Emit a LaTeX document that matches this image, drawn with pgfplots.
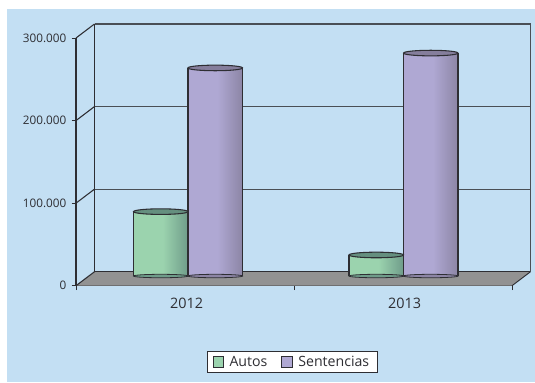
\documentclass[border=0pt]{standalone}
\usepackage{pgfplots}
\usepackage{pgfplotstable}
\usepackage{fontspec}
\setmainfont{Open Sans}
\pgfplotsset{compat=1.18}
\definecolor{bgblue}{HTML}{C3DFF3}
\definecolor{ink}{HTML}{2E2E33}
\definecolor{wallline}{HTML}{4A4F55}
\definecolor{floorgray}{HTML}{929292}
\definecolor{greenA}{HTML}{9BD3AE}
\definecolor{greenB}{HTML}{6F9C8A}
\definecolor{greenC}{HTML}{658F7F}
\definecolor{purpA}{HTML}{AFA8D3}
\definecolor{purpB}{HTML}{8C85A5}
\definecolor{purpC}{HTML}{857E9C}
\pgfdeclarehorizontalshading{cylgreen}{100bp}{color(0bp)=(greenA); color(52bp)=(greenA); color(75bp)=(greenB); color(100bp)=(greenB)}
\pgfdeclarehorizontalshading{cylpurp}{100bp}{color(0bp)=(purpA); color(52bp)=(purpA); color(75bp)=(purpB); color(100bp)=(purpB)}
\pgfdeclareplotmark{captop}{\pgfpathellipse{\pgfpointorigin}{\pgfqpoint{20.44pt}{0pt}}{\pgfqpoint{0pt}{2.1pt}}\pgfusepathqfillstroke}
\pgfdeclareplotmark{capbot}{\pgfpathellipse{\pgfpointorigin}{\pgfqpoint{20.44pt}{0pt}}{\pgfqpoint{0pt}{1.3pt}}\pgfusepathqfillstroke}
\pgfplotstableread{
x a s
0 78000 252000
1 25500 270000
}\datatable
\begin{document}
\begin{tikzpicture}
\fill[white] (0,0) rectangle (401.25pt,286.5pt);
\fill[bgblue] (5.25pt,0) rectangle (401.25pt,279.75pt);
% frame axis: true value scale on the front edge
\begin{axis}[
  at={(57pt,72.2pt)},anchor=south west,
  scale only axis,width=327pt,height=185.8pt,
  xmin=-0.5,xmax=1.5,ymin=0,ymax=300000,
  clip=false,
  axis x line=bottom,axis y line=left,
  axis line style={-,draw=ink,line width=0.9pt},
  tick style={draw=ink,line width=0.7pt},
  tick align=outside,
  major tick length=3.2pt,
  xtick={-0.5,0.5,1.5},xticklabels={2012,2013},
  x tick label as interval,
  ytick={0,100000,200000,300000},
  yticklabels={0,100.000,200.000,300.000},
  scaled y ticks=false,
  yticklabel style={font=\fontsize{8.8}{10}\selectfont,text=ink,xshift=-0.5pt},
  xticklabel style={font=\fontsize{10.8}{12}\selectfont,text=ink,yshift=-2.5pt,xshift=1.2pt},
]
\addplot[fill=floorgray,draw=none,forget plot] coordinates {(-0.5,0) (1.5,0) (1.585,17000) (-0.415,17000)} -- cycle;
\addplot[ink,line width=1.2pt,forget plot] coordinates {(-0.415,17000) (1.585,17000)};
\addplot[ink,line width=0.7pt,forget plot] coordinates {(1.5,0) (1.585,17000)};
\addplot[wallline,line width=0.9pt,forget plot] coordinates {(1.585,17000) (1.585,317000) (-0.415,317000)};
\addplot[wallline,line width=0.8pt,forget plot] coordinates {(-0.415,117000) (1.585,117000)};
\addplot[wallline,line width=0.8pt,forget plot] coordinates {(-0.415,217000) (1.585,217000)};
\addplot[ink,line width=0.9pt,forget plot] coordinates {(-0.415,17000) (-0.415,317000)};
\addplot[ink,line width=0.8pt,forget plot] coordinates {(-0.5,0) (-0.415,17000)};
\addplot[ink,line width=0.8pt,forget plot] coordinates {(-0.5,100000) (-0.415,117000)};
\addplot[ink,line width=0.8pt,forget plot] coordinates {(-0.5,200000) (-0.415,217000)};
\addplot[ink,line width=0.8pt,forget plot] coordinates {(-0.5,300000) (-0.415,317000)};
\end{axis}
% bars axis: bases stand on the floor
\begin{axis}[
  at={(57pt,72.2pt)},anchor=south west,
  scale only axis,width=327pt,height=185.8pt,
  xmin=-0.5197,xmax=1.5035,ymin=-11750,ymax=288250,
  clip=false,
  axis lines=none,
  legend columns=2,
  legend image code/.code={\draw[#1,line width=0.7pt] (0pt,-3.9pt) rectangle (8pt,3.9pt);},
  legend style={at={(0.3,-0.262)},anchor=north west,draw=ink,fill=white,line width=0.7pt,
    font=\fontsize{10.6}{11}\selectfont,text=ink,inner xsep=4pt,inner ysep=1.5pt,
    /tikz/every even column/.append style={column sep=8.5pt},
    /tikz/every odd column/.append style={column sep=2pt}},
]
\addlegendimage{fill=greenA,draw=ink}
\addlegendentry{Autos}
\addlegendimage{fill=purpA,draw=ink}
\addlegendentry{Sentencias}
% Autos
\addplot[only marks,mark=capbot,mark options={draw=ink,fill=greenB,line width=0.6pt},forget plot] table[x expr=\thisrow{x}-0.12645,y expr=0] {\datatable};
\addplot[ybar,bar width=40.88pt,bar shift=-20.44pt,draw=none,shade,shading=cylgreen,forget plot] coordinates {(0,78000)};
\addplot[ybar,bar width=40.88pt,bar shift=-20.44pt,draw=none,shade,shading=cylgreen,forget plot] coordinates {(1,25500)};
\addplot[ycomb,ink,line width=1pt,mark=none,forget plot] table[x expr=\thisrow{x}-0.2529,y=a] {\datatable};
\addplot[ycomb,ink,line width=1pt,mark=none,forget plot] table[x expr=\thisrow{x},y=a] {\datatable};
\addplot[only marks,mark=captop,mark options={draw=ink,fill=greenC,line width=0.8pt},forget plot] table[x expr=\thisrow{x}-0.12645,y=a] {\datatable};
% Sentencias
\addplot[only marks,mark=capbot,mark options={draw=ink,fill=purpB,line width=0.6pt},forget plot] table[x expr=\thisrow{x}+0.12645,y expr=0] {\datatable};
\addplot[ybar,bar width=40.88pt,bar shift=20.44pt,draw=none,shade,shading=cylpurp,forget plot] coordinates {(0,252000)};
\addplot[ybar,bar width=40.88pt,bar shift=20.44pt,draw=none,shade,shading=cylpurp,forget plot] coordinates {(1,270000)};
\addplot[ycomb,ink,line width=1pt,mark=none,forget plot] table[x expr=\thisrow{x},y=s] {\datatable};
\addplot[ycomb,ink,line width=1pt,mark=none,forget plot] table[x expr=\thisrow{x}+0.2529,y=s] {\datatable};
\addplot[only marks,mark=captop,mark options={draw=ink,fill=purpC,line width=0.8pt},forget plot] table[x expr=\thisrow{x}+0.12645,y=s] {\datatable};
\end{axis}
\end{tikzpicture}
\end{document}
